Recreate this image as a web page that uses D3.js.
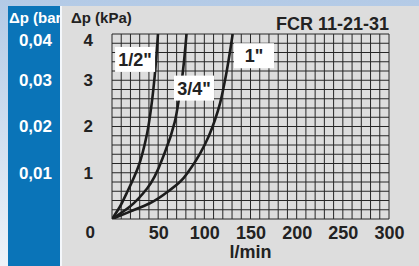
<!DOCTYPE html>
<html>
<head>
<meta charset="utf-8">
<script src="https://cdn.jsdelivr.net/npm/d3@7"></script>
<style>
  html, body { margin: 0; padding: 0; }
  svg { display: block; }
  text { font-family: "Liberation Sans", Arial, sans-serif; font-weight: bold; }
</style>
</head>
<body>
<script>
// chart values
const kpaTicks = [0, 1, 2, 3, 4]
const barTicks = [1, 2, 3, 4]
const barLabels = ["0,01", "0,02", "0,03", "0,04"]
const flowTicks = [50, 100, 150, 200, 250, 300]

// curves: flow (l/min) vs pressure drop (kPa)
const halfFlow = [0, 8.7, 15.9, 28.5, 38, 43, 46.3, 49.8]
const halfDp = [0, 0.27, 0.56, 1.13, 1.85, 2.5, 3.1, 4.0]
const threeQFlow = [0, 19.5, 38, 57.4, 68, 72.3, 75.6, 80.7]
const threeQDp = [0, 0.27, 0.66, 1.45, 2.1, 2.57, 3.0, 4.0]
const oneFlow = [0, 19.5, 41, 63, 74, 84, 95.5, 105, 111.5, 117, 122.4, 130.7]
const oneDp = [0, 0.16, 0.34, 0.63, 0.81, 1.06, 1.42, 1.8, 2.14, 2.5, 3.0, 4.0]

const seriesNames = ['1/2"', '3/4"', '1"']
const labelFlow = [25, 88.8, 153.8]
const labelDp = [3.45, 2.83, 3.53]

let dimensions = {w: 419, h: 266}

const svg = d3.select("body").append("svg")
  .attr("width", dimensions.w)
  .attr("height", dimensions.h)

const defs = svg.append("defs")
const grad = defs.append("linearGradient").attr("id", "bg").attr("x1", 0).attr("y1", 0).attr("x2", 0).attr("y2", 1)
grad.append("stop").attr("offset", "0%").attr("stop-color", "#b3cae6")
grad.append("stop").attr("offset", "100%").attr("stop-color", "#eef3f9")

// backgrounds
svg.append("rect").attr("width", dimensions.w).attr("height", dimensions.h).attr("fill", "url(#bg)")
svg.append("rect").attr("x", 8).attr("y", 6).attr("width", 53).attr("height", 260).attr("fill", "#0a74b8")

svg.append("text").attr("x", 9).attr("y", 23).attr("font-size", 15).attr("fill", "#fff").text("\u0394p (bar)")

svg.append("rect").attr("x", 60).attr("y", 6).attr("width", 2).attr("height", 260).attr("fill", "#f4f7fb")
svg.append("rect").attr("x", 62).attr("y", 6).attr("width", dimensions.w - 62).attr("height", 260).attr("fill", "#dddddd")

svg.append("text").attr("x", 71).attr("y", 23).attr("font-size", 15).attr("fill", "#222").text("\u0394p (kPa)")

svg.append("text").attr("x", 389).attr("y", 30).attr("font-size", 18).attr("fill", "#222")
  .attr("text-anchor", "end").text("FCR 11-21-31")

// scales
const x = d3.scaleLinear().domain([0, 300]).range([112, 389])
const y = d3.scaleLinear().domain([0, 4]).range([219, 34])

// grid
const grid = svg.append("g").attr("stroke", "#262626").attr("stroke-width", 1)
grid.selectAll(".vx").data(d3.range(0, 301, 10)).enter().append("line")
  .attr("x1", d => x(d)).attr("x2", d => x(d))
  .attr("y1", y(0)).attr("y2", y(4))
grid.selectAll(".hy").data(d3.range(0, 21).map(i => i * 0.2)).enter().append("line")
  .attr("x1", x(0)).attr("x2", x(300))
  .attr("y1", d => y(d)).attr("y2", d => y(d))

// curves
defs.append("clipPath").attr("id", "plot").append("rect")
  .attr("x", x(0)).attr("y", y(4)).attr("width", x(300) - x(0)).attr("height", y(0) - y(4))

// interpolate flow as a function of pressure, top point first so screen y increases
const line = d3.line()
  .x(d => x(d[0]))
  .y(d => y(d[1]))
  .curve(d3.curveMonotoneY)

const curves = [
  d3.zip(halfFlow, halfDp).reverse(),
  d3.zip(threeQFlow, threeQDp).reverse(),
  d3.zip(oneFlow, oneDp).reverse()
]

svg.append("g").attr("clip-path", "url(#plot)")
  .selectAll("path").data(curves).enter().append("path")
  .attr("d", line)
  .attr("fill", "none")
  .attr("stroke", "#1c1c1c")
  .attr("stroke-width", 2.6)

// curve labels in white boxes
const labels = svg.append("g").selectAll("g").data(seriesNames).enter().append("g")
  .attr("transform", (d, i) => "translate(" + x(labelFlow[i]) + "," + y(labelDp[i]) + ")")
labels.append("rect")
  .attr("x", -20).attr("y", -12.5).attr("width", 40).attr("height", 25)
  .attr("fill", "#fff")
labels.append("text")
  .attr("text-anchor", "middle").attr("dy", "0.36em")
  .attr("font-size", 18).attr("fill", "#222")
  .text(d => d)

// kPa axis
const kpaAxis = svg.append("g")
  .attr("transform", "translate(93,0)")
  .call(d3.axisLeft(y).tickValues(kpaTicks).tickSize(0).tickPadding(0).tickFormat(d3.format("d")))
kpaAxis.select(".domain").remove()
kpaAxis.selectAll("text")
  .attr("font-size", 17).attr("font-family", null).attr("fill", "#222")
  .attr("dy", d => d === 4 ? "0.65em" : d === 0 ? "1.1em" : "0.32em")
  .attr("x", d => d === 0 ? 2 : 0)

// bar axis
const barAxis = svg.append("g")
  .attr("transform", "translate(52,0)")
  .call(d3.axisLeft(y).tickValues(barTicks).tickSize(0).tickPadding(0)
    .tickFormat((d, i) => barLabels[i]))
barAxis.select(".domain").remove()
barAxis.selectAll("text")
  .attr("font-size", 17).attr("font-family", null).attr("fill", "#fff")
  .attr("dy", d => d === 4 ? "0.65em" : "0.32em")

// flow axis
const flowAxis = svg.append("g")
  .attr("transform", "translate(0," + y(0) + ")")
  .call(d3.axisBottom(x).tickValues(flowTicks).tickSize(0).tickPadding(7).tickFormat(d3.format("d")))
flowAxis.select(".domain").remove()
flowAxis.selectAll("text")
  .attr("font-size", 18).attr("font-family", null).attr("fill", "#222")

svg.append("text").attr("x", x(150)).attr("y", 258)
  .attr("text-anchor", "middle").attr("font-size", 18).attr("fill", "#222")
  .text("l/min")
</script>
</body>
</html>
